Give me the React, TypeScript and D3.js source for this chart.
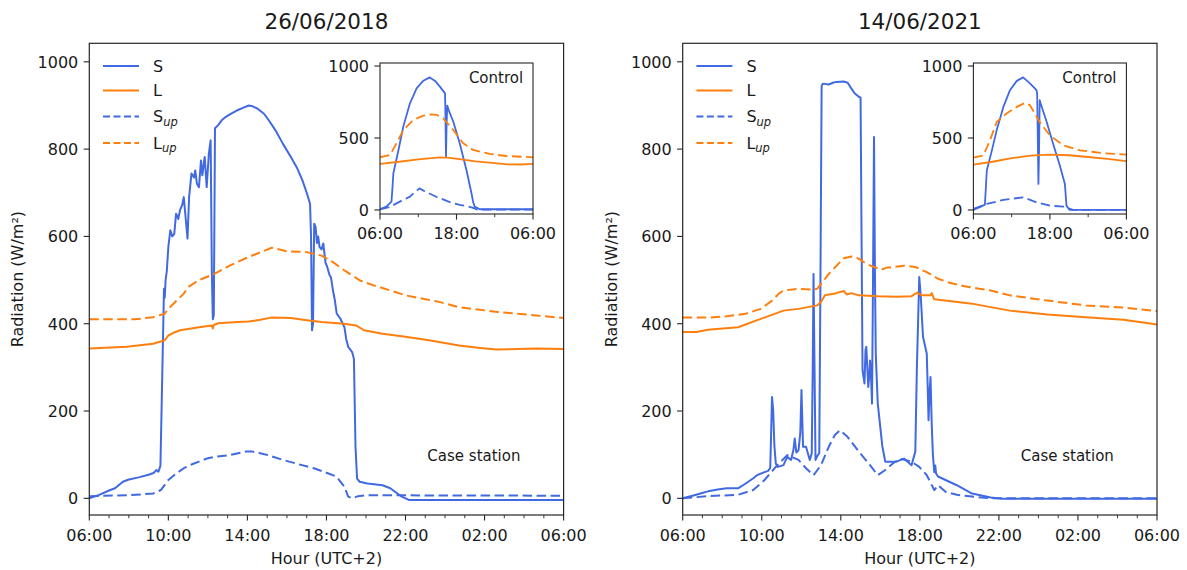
import React from 'react';
import * as d3 from 'd3';

type Pt = [number, number];

// hours after 06:00 (0..24), values in W/m²
const S_2018: Pt[] = [[0,0],[0.5,8],[1.0,18],[1.3,23],[1.7,38],[2.0,43],[2.5,48],[3.0,54],[3.25,58],[3.4,65],[3.5,61],[3.6,75],[3.7,300],[3.78,480],[3.82,460],[3.86,500],[3.92,520],[4.0,576],[4.1,614],[4.2,600],[4.3,606],[4.39,652],[4.5,640],[4.59,660],[4.7,672],[4.78,690],[4.88,640],[4.97,595],[5.05,690],[5.17,744],[5.3,735],[5.36,751],[5.45,720],[5.55,713],[5.65,774],[5.72,740],[5.8,770],[5.84,782],[5.9,740],[5.94,713],[6.05,790],[6.14,820],[6.2,520],[6.25,410],[6.3,420],[6.36,848],[6.52,855],[6.7,866],[6.91,874],[7.2,882],[7.49,889],[7.8,895],[8.07,900],[8.26,898],[8.5,893],[8.84,881],[9.1,865],[9.42,843],[9.8,812],[10.2,782],[10.5,758],[10.78,729],[11.0,700],[11.17,675],[11.22,600],[11.27,385],[11.32,400],[11.38,629],[11.45,622],[11.52,585],[11.58,600],[11.65,576],[11.75,570],[11.84,584],[11.95,540],[12.04,530],[12.15,512],[12.23,506],[12.33,476],[12.42,455],[12.52,423],[12.7,412],[12.91,392],[13.0,365],[13.1,347],[13.3,335],[13.39,320],[13.47,118],[13.55,45],[13.68,38],[14.07,34],[14.84,30],[15.23,23],[15.5,14],[15.81,4],[16.2,-4],[24,-4]];
const L_2018: Pt[] = [[0,343],[1.9,347],[3.23,354],[3.81,362],[4.0,373],[4.3,380],[4.59,385],[5.55,392],[6.2,396],[6.25,389],[6.3,397],[6.52,401],[7.49,404],[8.07,405],[8.65,409],[9.2,414],[10.2,413],[11.0,408],[11.75,404],[12.9,400],[13.5,396],[13.9,385],[14.84,377],[16.0,370],[17.2,362],[18.7,350],[19.9,344],[20.6,341],[22.6,343],[24,342]];
const SUP_2018: Pt[] = [[0,5],[2.0,7],[3.23,11],[3.62,19],[4.0,42],[4.4,57],[4.78,69],[5.2,78],[5.55,84],[6.0,92],[6.33,95],[7.1,99],[7.9,107],[8.26,107],[8.6,104],[9.04,99],[9.8,88],[10.6,78],[11.36,69],[12.1,57],[12.5,50],[12.9,27],[13.1,4],[13.3,0],[13.6,5],[14.1,7],[24,6]];
const LUP_2018: Pt[] = [[0,410],[2.3,410],[3.23,415],[3.81,423],[4.0,434],[4.4,452],[4.78,469],[5.0,484],[5.55,500],[6.33,514],[7.1,533],[8.07,553],[9.23,574],[10.0,566],[11.0,564],[11.75,556],[12.33,541],[12.91,522],[13.7,499],[14.5,486],[14.84,482],[16.0,465],[17.7,450],[18.7,438],[20.65,427],[22.6,419],[24,413]];

const S_2021: Pt[] = [[0,0],[0.5,6],[0.9,11],[1.28,16],[1.85,21],[2.23,23],[2.8,23],[3.19,34],[3.57,46],[3.76,53],[4.14,60],[4.33,63],[4.43,70],[4.52,232],[4.58,200],[4.64,120],[4.71,80],[4.81,72],[5.1,76],[5.29,95],[5.48,88],[5.6,110],[5.67,137],[5.75,105],[5.86,110],[5.95,150],[6.01,248],[6.07,150],[6.09,118],[6.24,118],[6.43,88],[6.53,103],[6.58,300],[6.62,514],[6.67,300],[6.72,88],[6.85,100],[6.91,103],[6.97,500],[7.03,945],[7.1,950],[7.39,948],[7.6,952],[7.77,954],[8.15,955],[8.35,952],[8.53,939],[8.7,928],[8.91,920],[9.0,918],[9.05,600],[9.1,293],[9.2,263],[9.25,340],[9.29,347],[9.34,300],[9.39,255],[9.44,280],[9.48,316],[9.53,280],[9.58,217],[9.63,500],[9.68,828],[9.73,500],[9.77,330],[9.87,217],[9.97,175],[10.1,120],[10.25,84],[10.82,84],[11.2,91],[11.58,76],[11.77,107],[11.85,300],[11.97,507],[12.05,460],[12.16,370],[12.35,331],[12.4,250],[12.44,179],[12.5,250],[12.54,278],[12.6,171],[12.66,100],[12.73,60],[12.78,75],[12.82,57],[12.92,50],[13.3,42],[13.87,30],[14.64,11],[15.59,2],[16.16,-1],[24,-1]];
const L_2021: Pt[] = [[0,381],[0.7,381],[1.28,386],[2.8,392],[3.95,411],[5.1,430],[5.86,434],[6.8,442],[7.0,450],[7.2,465],[7.77,470],[8.15,475],[8.3,467],[8.53,470],[8.91,465],[9.87,463],[10.82,462],[11.58,463],[11.87,471],[12.1,465],[12.54,465],[12.6,470],[12.73,456],[13.7,451],[14.64,446],[15.59,438],[16.55,430],[18.45,421],[20.4,415],[22.3,409],[23.3,403],[24,398]];
const SUP_2021: Pt[] = [[0,0],[1.28,5],[2.8,8],[3.57,19],[4.14,42],[4.71,72],[5.29,99],[5.5,95],[5.86,88],[6.24,69],[6.62,53],[7.0,76],[7.39,118],[7.7,145],[7.96,156],[8.34,141],[8.91,107],[9.48,76],[9.87,53],[10.25,65],[10.63,80],[11.0,91],[11.58,84],[11.97,72],[12.35,53],[12.73,19],[12.92,30],[13.3,15],[13.87,8],[14.64,4],[15.59,0],[24,0]];
const LUP_2021: Pt[] = [[0,414],[1.28,414],[2.23,417],[3.19,423],[3.95,434],[4.52,453],[4.9,470],[5.1,476],[5.86,480],[6.62,478],[6.8,480],[7.0,491],[7.39,514],[7.96,541],[8.15,550],[8.53,554],[8.91,549],[9.29,537],[9.68,530],[10.06,524],[10.3,528],[10.63,530],[11.2,533],[11.77,530],[12.35,518],[12.92,503],[13.5,494],[14.25,486],[15.0,480],[15.59,476],[16.55,465],[18.45,453],[20.4,442],[22.3,437],[24,429]];

// control station (insets)
const S_C2018: Pt[] = [[0,5],[1.0,23],[1.8,58],[1.95,150],[2.1,255],[2.9,417],[3.65,579],[4.7,741],[5.74,845],[6.8,898],[7.8,921],[8.6,898],[9.4,857],[10.2,810],[10.25,700],[10.35,370],[10.45,600],[10.55,725],[10.8,690],[11.5,613],[12.5,463],[13.56,278],[14.35,116],[14.6,58],[14.85,23],[15.65,5],[24,5]];
const L_C2018: Pt[] = [[0,320],[3,335],[6,352],[9.4,366],[11,362],[13,350],[15,338],[18,325],[20,317],[22,316],[24,320]];
const SUP_C2018: Pt[] = [[0,5],[1.5,20],[3.1,58],[4.7,93],[5.5,125],[6.2,150],[7.0,130],[8.9,90],[10.95,55],[12.5,35],[13.56,28],[14.6,15],[15.3,3],[24,3]];
const LUP_C2018: Pt[] = [[0,366],[1.56,382],[2.6,463],[3.65,556],[5.2,625],[6.8,655],[8.0,664],[8.9,660],[9.9,637],[11.5,556],[13.04,463],[14.6,417],[17.2,389],[19.8,375],[24,366]];

const S_C2021: Pt[] = [[0,0],[1.0,19],[1.8,37],[1.95,150],[2.1,274],[2.9,414],[3.65,553],[4.7,716],[5.74,832],[6.8,897],[7.8,921],[8.87,879],[9.9,832],[10.0,809],[10.1,500],[10.2,181],[10.3,414],[10.4,763],[10.55,739],[11.5,611],[12.5,460],[13.56,309],[14.35,181],[14.6,30],[15.1,0],[24,0]];
const L_C2021: Pt[] = [[0,315],[3,335],[6,360],[9,378],[12,384],[15,380],[18,368],[21,355],[24,340]];
const SUP_C2021: Pt[] = [[0,7],[2.1,42],[4.7,70],[7.8,88],[9.9,53],[12,30],[14.1,23],[15.65,0],[24,0]];
const LUP_C2021: Pt[] = [[0,363],[1.56,379],[2.6,484],[3.65,611],[5.2,670],[6.8,716],[8.1,744],[8.87,728],[10.4,611],[12,518],[14.1,449],[16.7,414],[20.3,395],[24,384]];

const TITLES = ['26/06/2018', '14/06/2021'];
const LEGEND_LABELS = ['S', 'L', 'S_up', 'L_up'];
const MAIN_X_TICKS = [0, 4, 8, 12, 16, 20, 24];
const MAIN_Y_TICKS = [0, 200, 400, 600, 800, 1000];
const INSET_X_TICKS = [0, 12, 24];
const INSET_Y_TICKS = [0, 500, 1000];

const BLUE = '#4169e1';
const ORANGE = '#ff7f0e';
const FONT = 'DejaVu Sans, sans-serif';
const AX = '#262626';

const fmtHour = (h: number) => d3.format('02d')((6 + h) % 24) + ':00';

type Series = { S: Pt[]; L: Pt[]; Sup: Pt[]; Lup: Pt[] };

const STYLES = [
  { key: 'S', color: BLUE, dash: '' },
  { key: 'L', color: ORANGE, dash: '' },
  { key: 'Sup', color: BLUE, dash: '9.5,4.5' },
  { key: 'Lup', color: ORANGE, dash: '9.5,4.5' },
];

function Lines({ data, x, y, width, clip }: { data: Series; x: any; y: any; width: number; clip: string }) {
  const line = d3.line<Pt>().x(d => x(d[0])).y(d => y(d[1]));
  return (
    <g clipPath={`url(#${clip})`}>
      {STYLES.map(s => (
        <path key={s.key} d={line((data as any)[s.key]) || ''} fill="none" stroke={s.color}
          strokeWidth={width} strokeDasharray={s.dash || undefined} strokeLinejoin="round" />
      ))}
    </g>
  );
}

function Panel({ idx, left, title, main, inset }: { idx: number; left: number; title: string; main: Series; inset: Series }) {
  const top = 43.3, bottom = 515, right = left + 474.3;
  const x = d3.scaleLinear().domain([0, 24]).range([left, right]);
  const y = d3.scaleLinear().domain([-38.2, 1042.4]).range([bottom, top]);
  const minor = d3.range(0, 25).filter(h => h % 4 !== 0);

  const il = left + 290.7, ir = il + 153, it = 63, ib = 214;
  const ix = d3.scaleLinear().domain([0, 24]).range([il, ir]);
  const iy = d3.scaleLinear().domain([-28, 1021]).range([ib, it]);
  const iminor = [6, 18];

  const cx = (left + right) / 2;
  const legY = [66, 90.5, 116.5, 143];

  return (
    <g fontFamily={FONT} fill="#1a1a1a">
      <defs>
        <clipPath id={`main${idx}`}><rect x={left} y={top} width={right - left} height={bottom - top} /></clipPath>
        <clipPath id={`ins${idx}`}><rect x={il} y={it} width={ir - il} height={ib - it} /></clipPath>
      </defs>
      <text x={cx} y={28.5} textAnchor="middle" fontSize={21.5}>{title}</text>
      <Lines data={main} x={x} y={y} width={2} clip={`main${idx}`} />
      <rect x={left} y={top} width={right - left} height={bottom - top} fill="none" stroke={AX} strokeWidth={1.2} />
      {MAIN_X_TICKS.map(t => (
        <g key={t}>
          <line x1={x(t)} x2={x(t)} y1={bottom} y2={bottom + 5.6} stroke={AX} strokeWidth={1.1} />
          <text x={x(t)} y={541} textAnchor="middle" fontSize={16}>{fmtHour(t)}</text>
        </g>
      ))}
      {minor.map(t => (
        <line key={t} x1={x(t)} x2={x(t)} y1={bottom} y2={bottom + 3.2} stroke={AX} strokeWidth={0.9} />
      ))}
      {MAIN_Y_TICKS.map(t => (
        <g key={t}>
          <line x1={left - 5.6} x2={left} y1={y(t)} y2={y(t)} stroke={AX} strokeWidth={1.1} />
          <text x={left - 11} y={y(t) + 5.8} textAnchor="end" fontSize={16}>{t}</text>
        </g>
      ))}
      <text x={cx} y={563.5} textAnchor="middle" fontSize={16}>Hour (UTC+2)</text>
      <text transform={`translate(${left - 66},${(top + bottom) / 2}) rotate(-90)`} textAnchor="middle" fontSize={16}>Radiation (W/m²)</text>
      <text x={left + 384.6} y={460.5} textAnchor="middle" fontSize={15}>Case station</text>

      {STYLES.map((s, i) => (
        <g key={s.key}>
          <line x1={left + 13.7} x2={left + 49.7} y1={legY[i]} y2={legY[i]} stroke={s.color} strokeWidth={2}
            strokeDasharray={s.dash ? '7,3.5' : undefined} />
          {LEGEND_LABELS[i].includes('_') ? (
            <text x={left + 63.7} y={legY[i] + 5.8} fontSize={16}>
              {LEGEND_LABELS[i].split('_')[0]}
              <tspan fontSize={11.5} fontStyle="italic" dy={3.5}>{LEGEND_LABELS[i].split('_')[1]}</tspan>
            </text>
          ) : (
            <text x={left + 63.7} y={legY[i] + 5.8} fontSize={16}>{LEGEND_LABELS[i]}</text>
          )}
        </g>
      ))}

      <rect x={il} y={it} width={ir - il} height={ib - it} fill="#fff" />
      <Lines data={inset} x={ix} y={iy} width={1.8} clip={`ins${idx}`} />
      <rect x={il} y={it} width={ir - il} height={ib - it} fill="none" stroke={AX} strokeWidth={1.1} />
      {INSET_X_TICKS.map(t => (
        <g key={t}>
          <line x1={ix(t)} x2={ix(t)} y1={ib} y2={ib + 5.6} stroke={AX} strokeWidth={1.1} />
          <text x={ix(t)} y={239} textAnchor="middle" fontSize={16}>{fmtHour(t)}</text>
        </g>
      ))}
      {iminor.map(t => (
        <line key={t} x1={ix(t)} x2={ix(t)} y1={ib} y2={ib + 3.2} stroke={AX} strokeWidth={0.9} />
      ))}
      {INSET_Y_TICKS.map(t => (
        <g key={t}>
          <line x1={il - 5.6} x2={il} y1={iy(t)} y2={iy(t)} stroke={AX} strokeWidth={1.1} />
          <text x={il - 11} y={iy(t) + 5.8} textAnchor="end" fontSize={16}>{t}</text>
        </g>
      ))}
      <text x={il + 116} y={82.5} textAnchor="middle" fontSize={15}>Control</text>
    </g>
  );
}

export default function App() {
  return (
    <svg width={1187} height={570} style={{ position: 'absolute', left: 0, top: 0, background: '#fff' }}>
      <rect width={1187} height={570} fill="#fff" />
      <Panel idx={0} left={89.3} title={TITLES[0]}
        main={{ S: S_2018, L: L_2018, Sup: SUP_2018, Lup: LUP_2018 }}
        inset={{ S: S_C2018, L: L_C2018, Sup: SUP_C2018, Lup: LUP_C2018 }} />
      <Panel idx={1} left={682.7} title={TITLES[1]}
        main={{ S: S_2021, L: L_2021, Sup: SUP_2021, Lup: LUP_2021 }}
        inset={{ S: S_C2021, L: L_C2021, Sup: SUP_C2021, Lup: LUP_C2021 }} />
    </svg>
  );
}
